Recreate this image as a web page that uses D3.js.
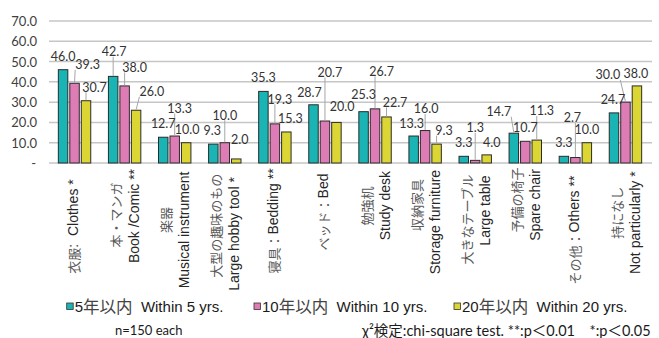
<!DOCTYPE html>
<html>
<head>
<meta charset="utf-8">
<script src="https://cdn.jsdelivr.net/npm/d3@7"></script>
<style>
  html, body { margin: 0; padding: 0; background: #fff; }
  svg { display: block; }
</style>
</head>
<body>
<svg id="chart" width="659" height="338"></svg>
<script>
// ---- data ----
const categories = [
  ["衣服:  Clothes *"],
  ["本・マンガ", "Book /Comic **"],
  ["楽器", "Musical instrument"],
  ["大型の趣味のもの", "Large hobby tool *"],
  ["寝具：Bedding **"],
  ["ベッド：Bed"],
  ["勉強机", "Study desk"],
  ["収納家具", "Storage furniture"],
  ["大きなテーブル", "Large table"],
  ["予備の椅子", "Spare chair"],
  ["その他：Others **"],
  ["持になし", "Not particularly *"]
];
const seriesNames = ["5年以内  Within 5 yrs.", "10年以内  Within 10 yrs.", "20年以内  Within 20 yrs."];
const within5  = [46.0, 42.7, 12.7, 9.3, 35.3, 28.7, 25.3, 13.3, 3.3, 14.7, 3.3, 24.7];
const within10 = [39.3, 38.0, 13.3, 10.0, 19.3, 20.7, 26.7, 16.0, 1.3, 10.7, 2.7, 30.0];
const within20 = [30.7, 26.0, 10.0, 2.0, 15.3, 20.0, 22.7, 9.3, 4.0, 11.3, 10.0, 38.0];
const yTicks = [0, 10, 20, 30, 40, 50, 60, 70];
const sampleNote = "n=150 each";
const testNote = "χ²検定:chi-square test. **:p＜0.01　*:p＜0.05";

// ---- layout ----
const colors = ["#1ab4b4", "#de7cb6", "#dcd634"];
// label nudges [dx, dy] per series, per category
const labelNudge = [
  [[0,0],[1,-11],[0,0],[-1,0],[0,0],[-4,1],[0,-4],[-2,1],[0,0],[-15,-8],[0,0],[-1,0]],
  [[13,-5],[10,-5],[5,-14],[0,-14],[5,-11],[5,-35],[6.5,-24],[1,-8],[0,-19],[0,0],[-3,-26],[-17.5,-13.6]],
  [[8.5,0],[15.7,-5],[1,0],[3.5,-6],[4,0],[5.7,-2],[8.5,-1],[7.5,0],[5,1],[5,-15.5],[0,0],[-1,1]]
];
// vertical centre of each rotated category-label line
const lineCenterY = [
  [226.5], [215, 216], [220, 230], [225.7, 234], [221], [212],
  [206, 205.6], [205, 222], [219.5, 210.6], [200, 205], [230], [212.7, 222.7]
];

const series = [within5, within10, within20];
const svg = d3.select("#chart");
const plotLeft = 49, plotRight = 652, plotTop = 21, plotBottom = 163;

const x0 = d3.scaleBand().domain(d3.range(categories.length))
  .range([49.5, 650.5]).paddingInner(0.353).paddingOuter(0.1765);
const x1 = d3.scaleBand().domain(d3.range(series.length))
  .range([0, x0.bandwidth()]).paddingInner(0.174).paddingOuter(0);
const y = d3.scaleLinear().domain([0, 70]).range([plotBottom, plotTop]);

const numFont = "Lato, 'Open Sans', sans-serif";
const latinFont = "'Liberation Sans', Arial, sans-serif";
const cjkFont = "'Noto Sans CJK JP', sans-serif";

// gridlines
svg.append("g").selectAll("line").data(yTicks).join("line")
  .attr("x1", plotLeft).attr("x2", plotRight)
  .attr("y1", d => y(d)).attr("y2", d => y(d))
  .attr("stroke", "#c6c6c6").attr("stroke-width", 1.5);

// y axis labels (accounting style: zero shown as "-")
const yAxis = d3.axisLeft(y).tickValues(yTicks).tickSize(0).tickPadding(0)
  .tickFormat(d => d === 0 ? "-" : d3.format(".1f")(d));
const gy = svg.append("g").attr("transform", "translate(37,0)").call(yAxis);
gy.select(".domain").remove();
gy.selectAll("text").attr("font-family", numFont).attr("font-size", 13)
  .attr("fill", "#404040").attr("dy", "0.35em")
  .attr("dx", d => d === 0 ? -1 : 0);

// bars
const groups = svg.append("g").selectAll("g").data(d3.range(categories.length)).join("g")
  .attr("transform", i => `translate(${x0(i)},0)`);
groups.selectAll("rect").data(i => series.map((s, k) => ({ k, v: s[i] }))).join("rect")
  .attr("x", d => x1(d.k)).attr("width", x1.bandwidth())
  .attr("y", d => y(d.v)).attr("height", d => y(0) - y(d.v))
  .attr("fill", d => colors[d.k]).attr("stroke", "#2b2b2b").attr("stroke-width", 1);

// value labels with leader lines
const leaderLayer = svg.append("g");
const labelLayer = svg.append("g");
series.forEach((s, k) => {
  s.forEach((v, i) => {
    const bx = x0(i) + x1(k) + x1.bandwidth() / 2;
    const by = y(v);
    const [dx, dy] = labelNudge[k][i];
    const cx = bx + dx, cy = by - 13.5 + dy;
    const t = labelLayer.append("text")
      .attr("x", cx).attr("y", cy).attr("dy", "0.35em")
      .attr("text-anchor", "middle")
      .attr("font-family", numFont).attr("font-size", 12.5).attr("fill", "#333")
      .text(d3.format(".1f")(v));
    if (Math.hypot(dx, dy) > 7) {
      const w = t.node().getComputedTextLength();
      const hx = w / 2, hy = 5;
      const px = Math.max(cx - hx, Math.min(bx, cx + hx));
      const py = Math.max(cy - hy, Math.min(by, cy + hy));
      leaderLayer.append("line")
        .attr("x1", bx).attr("y1", by - 0.5).attr("x2", px).attr("y2", py)
        .attr("stroke", "#a6a6a6").attr("stroke-width", 1);
    }
  });
});

// split a string into CJK / non-CJK runs
const cjkRe = /[\u3000-\u30ff\u4e00-\u9fff\uff00-\uffef]/;
function runs(str) {
  const re = /[\u3000-\u30ff\u4e00-\u9fff\uff00-\uffef]+|[^\u3000-\u30ff\u4e00-\u9fff\uff00-\uffef]+/g;
  return str.match(re).map(r => ({ r, cjk: cjkRe.test(r) }));
}
function fillRuns(textSel, str, latinSize, cjkSize, latinFill, cjkFill) {
  runs(str).forEach(p => {
    textSel.append("tspan").text(p.r)
      .attr("font-family", p.cjk ? cjkFont : latinFont)
      .attr("font-size", p.cjk ? cjkSize : latinSize)
      .attr("fill", p.cjk ? cjkFill : latinFill);
  });
}

// rotated category labels
categories.forEach((lines, i) => {
  const cx = x0(i) + x0.bandwidth() / 2;
  lines.forEach((ln, j) => {
    const off = lines.length === 1 ? -1.5 : (j === 0 ? -9.5 : 9.5);
    const t = svg.append("text")
      .attr("transform", `translate(${cx + off},${lineCenterY[i][j]}) rotate(-90)`)
      .attr("text-anchor", "middle").attr("dominant-baseline", "central")
      .style("white-space", "pre");
    fillRuns(t, ln, 14, 13, "#262626", "#5a5a5a");
  });
});

// legend
const legendX = [66.7, 254, 454];
seriesNames.forEach((name, k) => {
  const g = svg.append("g").attr("transform", `translate(${legendX[k]},306)`);
  g.append("rect").attr("x", 0).attr("y", -3).attr("width", 6.5).attr("height", 6.5)
    .attr("fill", colors[k]).attr("stroke", "#333").attr("stroke-width", 0.8);
  const t = g.append("text").attr("x", 8).attr("dominant-baseline", "central")
    .style("white-space", "pre");
  fillRuns(t, name, 15, 16.5, "#1a1a1a", "#444");
});

// notes
svg.append("text").attr("x", 115).attr("y", 330).attr("dominant-baseline", "central")
  .attr("font-family", numFont).attr("font-size", 13).attr("fill", "#1a1a1a")
  .text(sampleNote);
svg.append("text").attr("x", 362).attr("y", 330)
  .attr("dominant-baseline", "central")
  .attr("font-family", numFont + ", 'Noto Sans CJK JP'").attr("font-size", 14.5)
  .attr("fill", "#1a1a1a").style("white-space", "pre").text(testNote);
</script>
</body>
</html>
